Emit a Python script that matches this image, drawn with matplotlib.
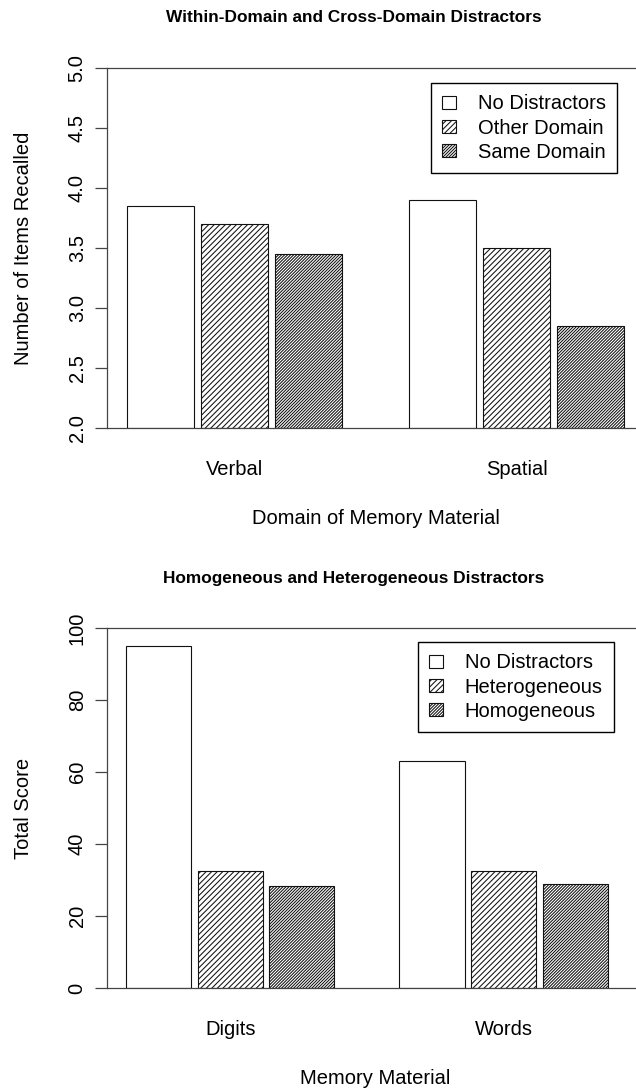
import matplotlib
matplotlib.use('Agg')
import matplotlib.pyplot as plt
from matplotlib.patches import Patch

plt.rcParams['font.family'] = ['Liberation Sans', 'DejaVu Sans']
plt.rcParams['hatch.linewidth'] = 0.75

# top panel data
domains = ['Verbal', 'Spatial']
top_series = ['No Distractors', 'Other Domain', 'Same Domain']
top_values = [
    [3.85, 3.90],   # No Distractors
    [3.70, 3.50],   # Other Domain
    [3.45, 2.85],   # Same Domain
]
top_yticks = [2.0, 2.5, 3.0, 3.5, 4.0, 4.5, 5.0]

# bottom panel data
materials = ['Digits', 'Words']
bot_series = ['No Distractors', 'Heterogeneous', 'Homogeneous']
bot_values = [
    [95, 63],       # No Distractors
    [32.5, 32.5],   # Heterogeneous
    [28.3, 29],     # Homogeneous
]
bot_yticks = [0, 20, 40, 60, 80, 100]

# hatch spacing ~ 33/n px at dpi 100
hatches = ['', '/' * 6, '/' * 11]
EDGE = '#111111'
AXC = '#444444'
FS = 14.5
W, H = 636, 1088


def draw_panel(ax, groups, series, values, yticks, ylim, xlim, ylabel, xlabel, leg_anchor):
    n = len(series)
    for s in range(n):
        xs = [g * (n * 1.1 + 0.9) + s * 1.1 for g in range(len(groups))]
        ax.bar(xs, [values[s][g] - ylim[0] for g in range(len(groups))],
               bottom=ylim[0], width=1.0, align='edge', facecolor='white',
               edgecolor=EDGE, linewidth=0.8, hatch=hatches[s])
    centers = [g * (n * 1.1 + 0.9) + (n * 1.1 - 0.1) / 2 for g in range(len(groups))]
    ax.set_xticks(centers)
    ax.set_xticklabels(groups, fontsize=FS)
    ax.tick_params(axis='x', length=0, pad=23)
    ax.set_yticks(yticks)
    ax.set_yticklabels([('%.1f' % t) if isinstance(t, float) else str(t) for t in yticks],
                       fontsize=FS, rotation=90, va='center')
    ax.tick_params(axis='y', length=8.6, width=0.9, color=AXC, pad=6)
    ax.set_ylim(ylim)
    ax.set_xlim(xlim)
    ax.spines['right'].set_visible(False)
    for sp in ['left', 'top', 'bottom']:
        ax.spines[sp].set_color(AXC)
        ax.spines[sp].set_linewidth(0.9)
    ax.set_ylabel(ylabel, fontsize=FS, labelpad=25)
    ax.set_xlabel(xlabel, fontsize=FS, labelpad=22)
    handles = [Patch(facecolor='white', edgecolor=EDGE, hatch=h, linewidth=0.8) for h in hatches]
    ax.legend(handles, series, loc='upper right', bbox_to_anchor=leg_anchor,
              bbox_transform=ax.figure.transFigure, fontsize=FS, frameon=True,
              fancybox=False, framealpha=1, edgecolor='black',
              handlelength=0.7, handleheight=0.65, handletextpad=1.05,
              borderpad=0.57, labelspacing=0.25, borderaxespad=0)


fig = plt.figure(figsize=(W / 100, H / 100), dpi=100)
ax1 = fig.add_axes([107 / W, (H - 428) / H, 537 / W, 360 / H])
ax2 = fig.add_axes([107 / W, (H - 988) / H, 537 / W, 360 / H])

draw_panel(ax1, domains, top_series, top_values, top_yticks, (2.0, 5.0),
           (-0.296, -0.296 + 537 / 67.2), 'Number of Items Recalled',
           'Domain of Memory Material', (617 / W, 1 - 83 / H))
draw_panel(ax2, materials, bot_series, bot_values, bot_yticks, (0, 100),
           (-0.292, -0.292 + 537 / 65.1), 'Total Score',
           'Memory Material', (614 / W, 1 - 642 / H))

fig.text(354 / W, 1 - 18 / H, 'Within-Domain and Cross-Domain Distractors',
         fontsize=12.4, fontweight='bold', ha='center', va='center')
fig.text(354 / W, 1 - 578 / H, 'Homogeneous and Heterogeneous Distractors',
         fontsize=12.4, fontweight='bold', ha='center', va='center')

fig.savefig('out.png', dpi=100)
